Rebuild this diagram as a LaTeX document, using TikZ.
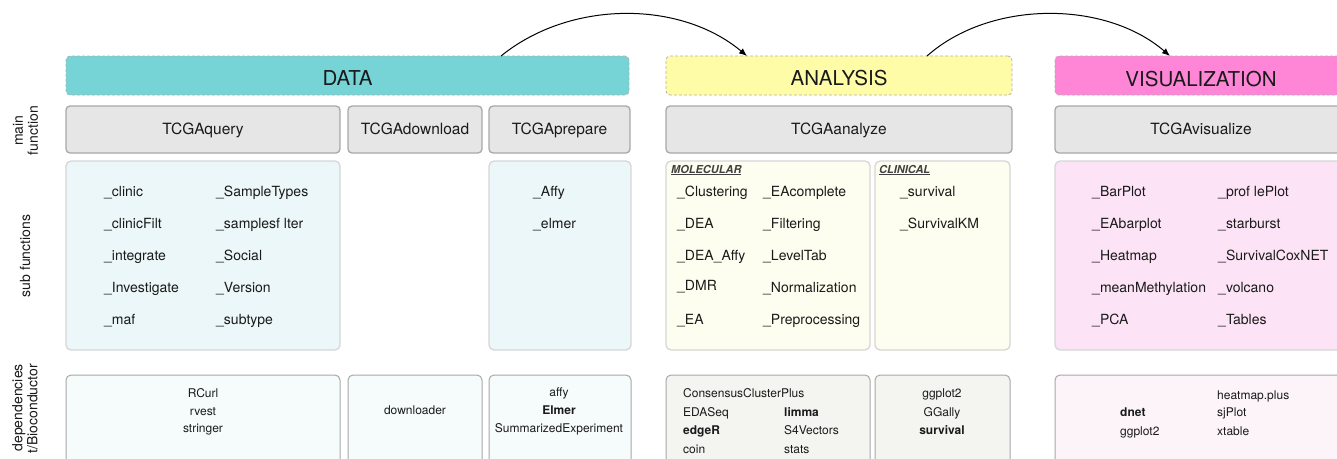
\documentclass[tikz,border=0pt]{standalone}
\usepackage{fontspec}
\setmainfont{TeX Gyre Heros}
\usetikzlibrary{arrows.meta}
\definecolor{datahead}{HTML}{76D4D6}
\definecolor{anahead}{HTML}{FFFCA8}
\definecolor{vishead}{HTML}{FF85D6}
\definecolor{mainfill}{HTML}{E6E6E6}
\definecolor{mainline}{HTML}{A8A8A8}
\definecolor{subline}{HTML}{D6D6D6}
\definecolor{datasub}{HTML}{EBF7F8}
\definecolor{anasub}{HTML}{FEFEF0}
\definecolor{vissub}{HTML}{FCE3F5}
\definecolor{datadep}{HTML}{F6FCFC}
\definecolor{anadep}{HTML}{F4F4F0}
\definecolor{visdep}{HTML}{FDF4FA}
\definecolor{depline}{HTML}{A8A8A8}
\definecolor{headline}{HTML}{B0B0B0}
\definecolor{txt}{HTML}{1A1A1A}
\begin{document}
\begin{tikzpicture}[x=1pt,y=-1pt,
  every node/.style={text=txt},
  size/.style 2 args={minimum width=#1, minimum height=#2},
  headbox/.style={draw=headline, dash pattern=on 3pt off 2pt, line width=0.8pt,
    rounded corners=4pt, anchor=north west, inner sep=0pt, outer sep=0pt,
    font=\fontsize{20.5}{24}\selectfont, text height=20.4pt, text depth=0pt},
  mainbox/.style={draw=mainline, fill=mainfill, line width=1.3pt, rounded corners=4pt,
    anchor=north west, inner sep=0pt, outer sep=0pt,
    font=\fontsize{15.5}{18}\selectfont, text height=9pt, text depth=0pt},
  subbox/.style={draw=subline, line width=1.3pt, rounded corners=5pt,
    anchor=north west, inner sep=0pt, outer sep=0pt},
  depbox/.style={draw=depline, line width=1pt, rounded corners=5pt,
    anchor=north west, inner sep=0pt, outer sep=0pt},
  subtxt/.style={font=\fontsize{14}{16}\selectfont, inner sep=0pt, anchor=base west},
  cattxt/.style={font=\fontsize{11}{13}\selectfont\bfseries\itshape, text=black!75, inner sep=0pt, anchor=base west},
  deptxt/.style={font=\fontsize{12}{14}\selectfont, inner sep=0pt},
  sidetxt/.style={font=\fontsize{14}{15}\selectfont, rotate=90, inner sep=0pt},
  flow/.style={line width=1pt, draw=black, -{Latex[length=8pt,width=6.5pt]}}
]
\useasboundingbox (0,0) rectangle (1337,458);
\clip (0,0) rectangle (1337,458);

% side labels
\node[sidetxt, align=center] (lmain) at (25.5,130.5) {main\\function};
\node[sidetxt] (lsub) at (25,256) {sub functions};
\node[sidetxt, align=right, anchor=east] (ldep) at (25,364) {dependencies\\t/Bioconductor};

% header boxes
\node[headbox, fill=datahead, size={563}{39}] (data) at (66,56) {DATA};
\node[headbox, fill=anahead, size={346}{39}] (analysis) at (666,56) {ANALYSIS};
\node[headbox, fill=vishead, size={292}{39}, text height=22pt] (vis) at (1055,56) {VISUALIZATION};

% main functions
\node[mainbox, size={274}{47}] (query) at (66,106) {TCGAquery};
\node[mainbox, size={134}{47}] (download) at (348,106) {TCGAdownload};
\node[mainbox, size={141}{47}] (prepare) at (489,106) {TCGAprepare};
\node[mainbox, size={346}{47}] (analyze) at (666,106) {TCGAanalyze};
\node[mainbox, size={292}{47}] (visualize) at (1055,106) {TCGAvisualize};

% sub function boxes
\node[subbox, fill=datasub, size={274}{189}] (dsub) at (66,161) {};
\node[subbox, fill=datasub, size={142}{189}] (psub) at (489,161) {};
\node[subbox, fill=anasub, size={204}{189}] (msub) at (666,161) {};
\node[subbox, fill=anasub, size={135}{189}] (csub) at (875,161) {};
\node[subbox, fill=vissub, size={292}{189}] (vsub) at (1055,161) {};

% dependency boxes
\node[depbox, fill=datadep, size={274}{100}] (ddep) at (66,375) {};
\node[depbox, fill=datadep, size={134}{100}] (dldep) at (348,375) {};
\node[depbox, fill=datadep, size={142}{100}] (pdep) at (489,375) {};
\node[depbox, fill=anadep, size={204}{100}] (mdep) at (666,375) {};
\node[depbox, fill=anadep, size={135}{100}] (cdep) at (875,375) {};
\node[depbox, fill=visdep, size={292}{100}] (vdep) at (1055,375) {};

% sub function texts
\foreach \t [count=\i] in {\_clinic, \_clinicFilt, \_integrate, \_Investigate, \_maf}
  \node[subtxt] (qa\i) at (104,164.5+32*\i) {\t};
\foreach \t [count=\i] in {\_SampleTypes, \_samplesf lter, \_Social, \_Version, \_subtype}
  \node[subtxt] (qb\i) at (216,164.5+32*\i) {\t};
\foreach \t [count=\i] in {\_Affy, \_elmer}
  \node[subtxt] (pa\i) at (533,164.5+32*\i) {\t};
\node[cattxt] (molec) at (671,173) {\underline{MOLECULAR}};
\node[cattxt] (clinic) at (879,173) {\underline{CLINICAL}};
\foreach \t/\dy [count=\i] in {\_Clustering/0, \_DEA/0, \_DEA\_Affy/0, \_DMR/-2, \_EA/0}
  \node[subtxt] (ma\i) at (677,164.5+32*\i+\dy) {\t};
\foreach \t [count=\i] in {\_EAcomplete, \_Filtering, \_LevelTab, \_Normalization, \_Preprocessing}
  \node[subtxt] (mb\i) at (763,164.5+32*\i) {\t};
\foreach \t [count=\i] in {\_survival, \_SurvivalKM}
  \node[subtxt] (ca\i) at (900,164.5+32*\i) {\t};
\foreach \t [count=\i] in {\_BarPlot, \_EAbarplot, \_Heatmap, \_meanMethylation, \_PCA}
  \node[subtxt] (va\i) at (1092,164.5+32*\i) {\t};
\foreach \t [count=\i] in {\_prof lePlot, \_starburst, \_SurvivalCoxNET, \_volcano, \_Tables}
  \node[subtxt] (vb\i) at (1218,164.5+32*\i) {\t};

% dependency texts
\foreach \t/\yy [count=\i] in {RCurl/397.5, rvest/415, stringer/432.5}
  \node[deptxt, anchor=base] (dd\i) at (203,\yy) {\t};
\node[deptxt, anchor=base] (dl1) at (415,414.5) {downloader};
\foreach \t/\yy [count=\i] in {affy/396, \textbf{Elmer}/414, SummarizedExperiment/432}
  \node[deptxt, anchor=base] (pd\i) at (559,\yy) {\t};
\foreach \t/\yy [count=\i] in {ConsensusClusterPlus/397.5, EDASeq/416, \textbf{edgeR}/434.5, coin/453}
  \node[deptxt, anchor=base west] (md\i) at (683,\yy) {\t};
\foreach \t/\yy [count=\i] in {\textbf{limma}/416, S4Vectors/434.5, stats/453}
  \node[deptxt, anchor=base west] (me\i) at (784,\yy) {\t};
\foreach \t/\yy [count=\i] in {ggplot2/397.5, GGally/416, \textbf{survival}/434.5}
  \node[deptxt, anchor=base] (cd\i) at (942,\yy) {\t};
\foreach \t/\yy [count=\i] in {heatmap.plus/399, sjPlot/416.5, xtable/435}
  \node[deptxt, anchor=base west] (vd\i) at (1217,\yy) {\t};
\foreach \t/\yy [count=\i] in {\textbf{dnet}/416.5, ggplot2/435}
  \node[deptxt, anchor=base west] (ve\i) at (1120,\yy) {\t};

% flow arrows
\draw[flow] ([xshift=-128pt]data.north east) .. controls +(69,-56) and +(-67,-56) .. ([xshift=81pt]analysis.north west);
\draw[flow] ([xshift=-85pt]analysis.north east) .. controls +(63,-56) and +(-65,-56) .. ([xshift=115pt]vis.north west);
\end{tikzpicture}
\end{document}
